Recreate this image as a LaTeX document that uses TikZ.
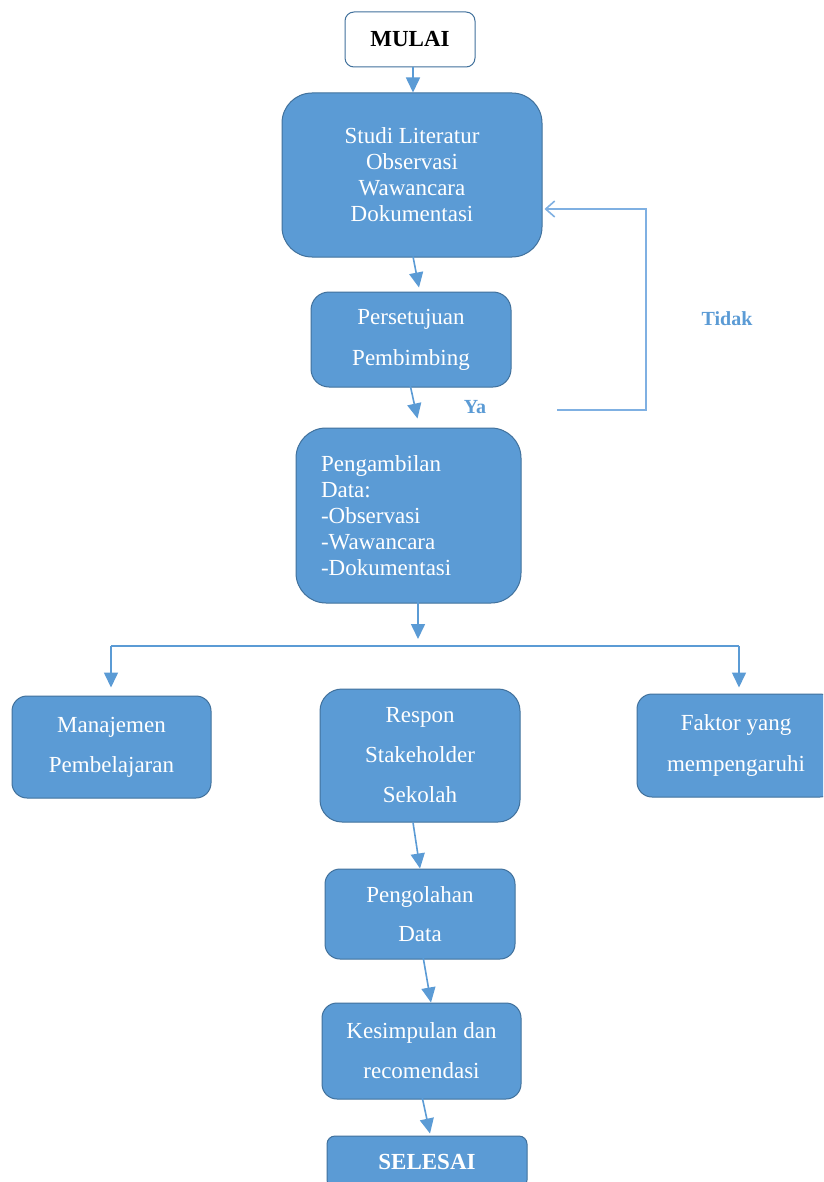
\documentclass[tikz,border=0pt]{standalone}
\usepackage{fontspec}
\setmainfont{Liberation Serif}
\usetikzlibrary{arrows.meta,calc}
\definecolor{boxfill}{HTML}{5B9BD5}
\definecolor{boxline}{HTML}{41719C}
\definecolor{arrowblue}{HTML}{5B9BD5}
\definecolor{loopblue}{HTML}{7FB0E2}
\tikzset{
  blue box/.style={draw=boxline, line width=1pt, fill=boxfill, text=white,
    inner sep=0pt, align=center, font=\fontsize{23}{26}\selectfont},
  flow/.style={draw=arrowblue, line width=1.6pt, -{Triangle[length=15pt,width=14pt]}},
  plain line/.style={draw=arrowblue, line width=1.6pt},
  loop line/.style={draw=loopblue, line width=1.6pt},
  answer/.style={text=arrowblue, font=\bfseries\fontsize{20}{22}\selectfont, inner sep=0pt}
}
\begin{document}
\begin{tikzpicture}[x=1pt,y=-1pt]
\useasboundingbox (0,0) rectangle (823,1182);
\clip (0,0) rectangle (823,1182);
\fill[white] (0,0) rectangle (823,1182);

\node[draw=boxline, line width=1pt, fill=white, rounded corners=9pt, inner sep=0pt,
  minimum width=130pt, minimum height=55pt, font=\bfseries\fontsize{23}{26}\selectfont]
  (mulai) at (410,39.5) {MULAI};

\node[blue box, rounded corners=30pt, minimum width=260pt, minimum height=164pt]
  (studi) at (412,175) {Studi Literatur\\Observasi\\Wawancara\\Dokumentasi};

\node[blue box, rounded corners=18pt, minimum width=200pt, minimum height=95pt,
  font=\fontsize{23}{41}\selectfont]
  (pers) at (411,339.5) {Persetujuan\\Pembimbing};

\node[blue box, rounded corners=30pt, minimum width=225pt, minimum height=175pt,
  text width=175pt, align=left]
  (ambil) at (408.5,515.5) {Pengambilan\\Data:\\-Observasi\\-Wawancara\\-Dokumentasi};

\node[blue box, rounded corners=15pt, minimum width=199pt, minimum height=102pt,
  font=\fontsize{23}{40}\selectfont]
  (man) at (111.5,747) {Manajemen\\Pembelajaran};

\node[blue box, rounded corners=22pt, minimum width=200pt, minimum height=133pt,
  font=\fontsize{23}{40}\selectfont]
  (resp) at (420,755.5) {Respon\\Stakeholder\\Sekolah};

\node[blue box, rounded corners=15pt, minimum width=198pt, minimum height=103pt,
  font=\fontsize{23}{41}\selectfont]
  (fak) at (736,745.5) {Faktor yang\\mempengaruhi};

\node[blue box, rounded corners=15pt, minimum width=190pt, minimum height=90pt,
  font=\fontsize{23}{39}\selectfont]
  (olah) at (420,914) {Pengolahan\\Data};

\node[blue box, rounded corners=15pt, minimum width=199pt, minimum height=96pt,
  font=\fontsize{23}{40}\selectfont]
  (kes) at (421.5,1051) {Kesimpulan dan\\recomendasi};

\node[blue box, rounded corners=8pt, minimum width=200pt, minimum height=52pt,
  font=\bfseries\fontsize{23}{26}\selectfont]
  (selesai) at (427,1162) {SELESAI};

% main flow
\draw[flow] ($(mulai.south)+(3,0)$) -- ($(studi.north)+(1,0)$);
\draw[flow] ($(studi.south)+(1,-1)$) -- ($(pers.north)+(8,-4)$);
\draw[flow] ($(pers.south)+(-1,-3)$) -- ($(ambil.north)+(9,-9)$);

% split
\coordinate (split) at (418,646);
\coordinate (splitL) at (111,646);
\coordinate (splitR) at (739,646);
\draw[flow] ($(ambil.south)+(9.5,-12)$) -- ($(split)+(0,-7)$);
\draw[plain line] (splitL) -- (splitR);
\draw[flow] (splitL) -- ($(man.north)+(-0.5,-8)$);
\draw[flow] (splitR) -- ($(fak.north)+(3,-6)$);

\draw[flow] ($(resp.south)+(-7,0)$) -- ($(olah.north)+(0,0)$);
\draw[flow] ($(olah.south)+(3,-3)$) -- ($(kes.north)+(9.5,0)$);
\draw[flow] ($(kes.south)+(0.5,-3)$) -- ($(selesai.north)+(3,-2)$);

% feedback loop
\coordinate (loopstart) at (557,410);
\coordinate (loopcorner1) at (646,410);
\coordinate (loopcorner2) at (646,209);
\draw[loop line, -{Straight Barb[length=9pt,width=16pt]}]
  (loopstart) -- (loopcorner1) -- (loopcorner2) -- ($(studi.east)+(2,34)$);

\node[answer] (tidak) at (727,319) {Tidak};
\node[answer] (ya) at (475,407) {Ya};
\end{tikzpicture}
\end{document}
